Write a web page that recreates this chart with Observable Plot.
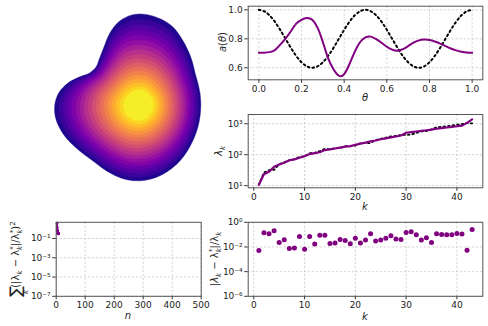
<!DOCTYPE html>
<html><head><meta charset="utf-8">
<script src="https://cdn.jsdelivr.net/npm/d3@7"></script>
<script src="https://cdn.jsdelivr.net/npm/@observablehq/plot@0.6"></script>
<style>
body{margin:0;background:#fff;}
#fig{position:relative;width:488px;height:326px;overflow:hidden;font-family:"DejaVu Sans",sans-serif;background:#fff;}
#fig svg{position:absolute;overflow:visible;}
</style></head><body><div id="fig"></div>
<script>
// ---------- data ----------
const theta = [0,0.025,0.05,0.075,0.1,0.125,0.15,0.175,0.2,0.225,0.25,0.275,0.3,0.325,0.35,0.375,0.4,0.425,0.45,0.475,0.5,0.525,0.55,0.575,0.6,0.625,0.65,0.675,0.7,0.725,0.75,0.775,0.8,0.825,0.85,0.875,0.9,0.925,0.95,0.975,1.0];
const aTheta = [0.703,0.704,0.708,0.722,0.759,0.802,0.852,0.905,0.931,0.943,0.931,0.877,0.778,0.665,0.590,0.545,0.556,0.626,0.712,0.778,0.810,0.815,0.798,0.773,0.745,0.725,0.717,0.728,0.750,0.773,0.789,0.795,0.792,0.781,0.767,0.750,0.733,0.720,0.711,0.705,0.703];
const aTarget = [1.000,0.990,0.962,0.918,0.862,0.800,0.738,0.682,0.638,0.610,0.600,0.610,0.638,0.682,0.738,0.800,0.862,0.918,0.962,0.990,1.000,0.990,0.962,0.918,0.862,0.800,0.738,0.682,0.638,0.610,0.600,0.610,0.638,0.682,0.738,0.800,0.862,0.918,0.962,0.990,1.000];

const kIdx = [1,2,3,4,5,6,7,8,9,10,11,12,13,14,15,16,17,18,19,20,21,22,23,24,25,26,27,28,29,30,31,32,33,34,35,36,37,38,39,40,41,42,43];
const lambda = [10.7,23.4,28.2,40.7,47.9,55.0,66.1,70.8,79.4,89.1,104.7,112.2,120.2,141.3,147.9,158.5,169.8,182.0,190.5,208.9,229.1,245.5,269.2,288.4,316.2,338.8,363.1,389.0,416.9,512.9,537.0,562.3,588.8,616.6,645.7,691.8,724.4,758.6,794.3,831.8,871.0,1071.5,1380.4];
const lambdaStar = [10.75,26.7,31.5,32.4,49.0,57.1,65.6,71.4,85.0,88.5,112.1,114.2,131.1,154.2,150.8,161.8,162.8,188.2,187.0,198.0,233.9,236.7,237.7,297.1,327.6,356.4,392.5,406.1,434.0,437.0,445.7,507.2,567.6,582.1,660.8,772.7,798.3,833.0,872.1,934.1,966.8,1065.7,1025.6];
const relErr = [0.0051,0.141,0.117,0.204,0.0234,0.0389,0.0074,0.0083,0.071,0.0065,0.071,0.0174,0.091,0.091,0.0195,0.0209,0.041,0.034,0.0186,0.052,0.0209,0.036,0.117,0.030,0.036,0.052,0.081,0.044,0.041,0.148,0.17,0.098,0.036,0.056,0.0234,0.117,0.102,0.098,0.098,0.123,0.110,0.0054,0.257];

const nIter = [0,1,2,3,4,5,6,7,8];
const lossHist = [60,12,3.5,1.4,0.7,0.45,0.36,0.33,0.32];

// tick values
const thetaTicks = [0,0.2,0.4,0.6,0.8,1.0];
const aTicks = [0.6,0.8,1.0];
const kTicks = [0,10,20,30,40];
const lamTicks = [10,100,1000];
const lamMinor = [9,20,30,40,50,60,70,80,90,200,300,400,500,600,700,800,900];
const errTicks = [1e-6,1e-4,1e-2,1];
const nTicks = [0,100,200,300,400,500];
const lossTicks = [1e-7,1e-5,1e-3,1e-1];

// ---------- helpers ----------
const FONT = "DejaVu Sans, sans-serif";
const PURPLE = "#800080";
const fig = document.getElementById("fig");
const sup = s => String(s).replace(/[-0-9]/g, c => "⁻⁰¹²³⁴⁵⁶⁷⁸⁹"["-0123456789".indexOf(c)]);
const logFmt = d => "10" + sup(Math.round(Math.log10(d)));
const grid = {stroke:"#c4c4c4", strokeOpacity:1, strokeWidth:0.8, strokeDasharray:"2,2"};
const axOpt = {tickSize:3.5, tickPadding:2, fontSize:9, label:null, stroke:"#333"};
const baseStyle = {fontFamily:FONT, fontSize:"9px", background:"transparent", color:"#222", overflow:"visible"};
function place(svg, left, top){ svg.style.left = left+"px"; svg.style.top = top+"px"; fig.appendChild(svg); }

// ---------- shape (domain r = a(theta)) ----------
const N = 18;
const ring = aTheta.slice(0, -1);
const abar = d3.mean(ring);
const shapeRows = [];
for (let i = 0; i < N; i++) {
  const t = 0.84 * i / N;
  const w = Math.pow(1 - t, 1.6);
  const cx = 0.06 * t / 0.84, cy = -0.01 * t / 0.84;
  ring.forEach((a, j) => {
    const ang = 2 * Math.PI * theta[j];
    const r = (1 - t) * (w * a + (1 - w) * abar);
    shapeRows.push({level: i, v: (i + 0.5) / N, x: cx + r * Math.cos(ang), y: cy + r * Math.sin(ang)});
  });
}
place(Plot.plot({
  width: 240, height: 210, margin: 0,
  style: baseStyle,
  x: {domain: [-1.373, 1.114], axis: null},
  y: {domain: [-1.098, 1.078], axis: null},
  color: {type: "linear", scheme: "plasma", domain: [0, 1]},
  marks: [
    Plot.line(shapeRows, {x: "x", y: "y", z: "level", fill: "v", stroke: "v", strokeWidth: 0.4, curve: "catmull-rom-closed"})
  ]
}), 0, 0);

// ---------- a(theta) panel ----------
const thRows = theta.map((t, i) => ({t, a: aTheta[i], g: aTarget[i]}));
place(Plot.plot({
  width: 288, height: 105,
  marginLeft: 47.7, marginRight: 5.7, marginTop: 5.7, marginBottom: 25.7,
  style: baseStyle,
  x: {domain: [-0.05, 1.05]}, y: {domain: [0.517, 1.025]},
  marks: [
    Plot.gridX(thetaTicks, grid), Plot.gridY(aTicks, grid),
    Plot.line(thRows, {x: "t", y: "g", stroke: "#000", strokeWidth: 2, strokeDasharray: "1.8,3", curve: "natural"}),
    Plot.line(thRows, {x: "t", y: "a", stroke: PURPLE, strokeWidth: 2, curve: "natural"}),
    Plot.axisX(thetaTicks, {...axOpt, tickFormat: d3.format(".1f")}),
    Plot.axisY(aTicks, {...axOpt, tickFormat: d3.format(".1f")}),
    Plot.frame({stroke: "#555", strokeWidth: 1})
  ]
}), 200, 0);

// ---------- eigenvalue panel ----------
const kRows = kIdx.map((k, i) => ({k, l: lambda[i], s: lambdaStar[i], e: relErr[i]}));
place(Plot.plot({
  width: 288, height: 95,
  marginLeft: 47.7, marginRight: 5.7, marginTop: 6, marginBottom: 15.7,
  style: baseStyle,
  x: {domain: [-1.1, 45.1]}, y: {type: "log", domain: [8.51, 1995]},
  marks: [
    Plot.gridY(lamMinor, {stroke: "#d4d4d4", strokeWidth: 0.5, strokeDasharray: "1,1"}),
    Plot.gridX(kTicks, grid), Plot.gridY(lamTicks, grid),
    Plot.line(kRows, {x: "k", y: "s", stroke: "#000", strokeWidth: 1.8, strokeDasharray: "1.6,3"}),
    Plot.line(kRows, {x: "k", y: "l", stroke: PURPLE, strokeWidth: 2.2}),
    Plot.axisX(kTicks, {...axOpt, tickFormat: d3.format("d")}),
    Plot.axisY(lamTicks, {...axOpt, tickFormat: logFmt}),
    Plot.frame({stroke: "#555", strokeWidth: 1})
  ]
}), 200, 108);

// ---------- relative error panel ----------
place(Plot.plot({
  width: 288, height: 111,
  marginLeft: 47.7, marginRight: 5.7, marginTop: 6.8, marginBottom: 30.2,
  style: baseStyle,
  x: {domain: [-1.1, 45.1]}, y: {type: "log", domain: [1e-6, 1]},
  marks: [
    Plot.gridX(kTicks, grid), Plot.gridY(errTicks, grid),
    Plot.dot(kRows, {x: "k", y: "e", r: 2.5, fill: PURPLE, stroke: null}),
    Plot.axisX(kTicks, {...axOpt, tickFormat: d3.format("d")}),
    Plot.axisY(errTicks, {...axOpt, tickFormat: logFmt}),
    Plot.frame({stroke: "#555", strokeWidth: 1})
  ]
}), 200, 215);

// ---------- loss history panel ----------
const lossRows = nIter.map((n, i) => ({n, v: lossHist[i]}));
place(Plot.plot({
  width: 210, height: 111,
  marginLeft: 55.7, marginRight: 9.3, marginTop: 6.8, marginBottom: 30.2,
  style: baseStyle,
  x: {domain: [0, 500]}, y: {type: "log", domain: [1e-7, 4.8]},
  marks: [
    Plot.gridX(nTicks, grid), Plot.gridY(lossTicks, grid),
    Plot.line(lossRows, {x: "n", y: "v", stroke: PURPLE, strokeWidth: 2, clip: true}),
    Plot.dot(lossRows, {x: "n", y: "v", r: 1.6, fill: PURPLE, stroke: null, clip: true}),
    Plot.axisX(nTicks, {...axOpt, tickFormat: d3.format("d")}),
    Plot.axisY(lossTicks, {...axOpt, tickFormat: logFmt}),
    Plot.frame({stroke: "#555", strokeWidth: 1})
  ]
}), 0, 215);

// ---------- axis labels (overlay) ----------
const ov = d3.select(fig).append("svg").attr("width", 488).attr("height", 326)
  .style("left", "0px").style("top", "0px").style("pointer-events", "none")
  .style("font-family", FONT).style("font-size", "10px");
function label(x, y, rot, parts) {
  const t = ov.append("text").attr("transform", `translate(${x},${y}) rotate(${rot})`)
    .attr("text-anchor", "middle").attr("fill", "#222");
  for (const p of parts) {
    const s = t.append("tspan").text(p.t);
    if (p.i) s.attr("font-style", "italic");
    if (p.s) s.attr("font-size", p.s);
    if (p.dy) s.attr("dy", p.dy);
    if (p.dx) s.attr("dx", p.dx);
  }
}
label(365, 100.5, 0, [{t: "θ", i: 1}]);
label(225.5, 42, -90, [{t: "a", i: 1}, {t: "("}, {t: "θ", i: 1}, {t: ")"}]);
label(365, 209.5, 0, [{t: "k", i: 1}]);
label(222, 151, -90, [{t: "λ", i: 1}, {t: "k", i: 1, s: 7, dy: 2.5}]);
label(365, 319.5, 0, [{t: "k", i: 1}]);
label(128, 318.5, 0, [{t: "n", i: 1}]);
label(218, 259, -90, [
  {t: "|λ", i: 1}, {t: "k", i: 1, s: 7, dy: 2.5}, {t: " − λ", dy: -2.5}, {t: "k", i: 1, s: 7, dy: 2.5},
  {t: "*", s: 7, dx: -3.8, dy: -7}, {t: "|/λ", dy: 4.5}, {t: "k", i: 1, s: 7, dy: 2.5}
]);
label(19, 259, -90, [
  {t: "∑", s: 16, dy: 1.5}, {t: "k", i: 1, s: 7, dx: -8, dy: 7}, {t: "(|λ", dx: 2, dy: -8.5},
  {t: "k", i: 1, s: 7, dy: 2.5}, {t: " − λ", dy: -2.5}, {t: "k", i: 1, s: 7, dy: 2.5},
  {t: "*", s: 7, dx: -3.8, dy: -7}, {t: "|/λ", dy: 4.5}, {t: "k", i: 1, s: 7, dy: 2.5},
  {t: "*", s: 7, dx: -3.8, dy: -7}, {t: ")", dy: 4.5}, {t: "2", s: 7, dy: -4}
]);
</script>
</body></html>
